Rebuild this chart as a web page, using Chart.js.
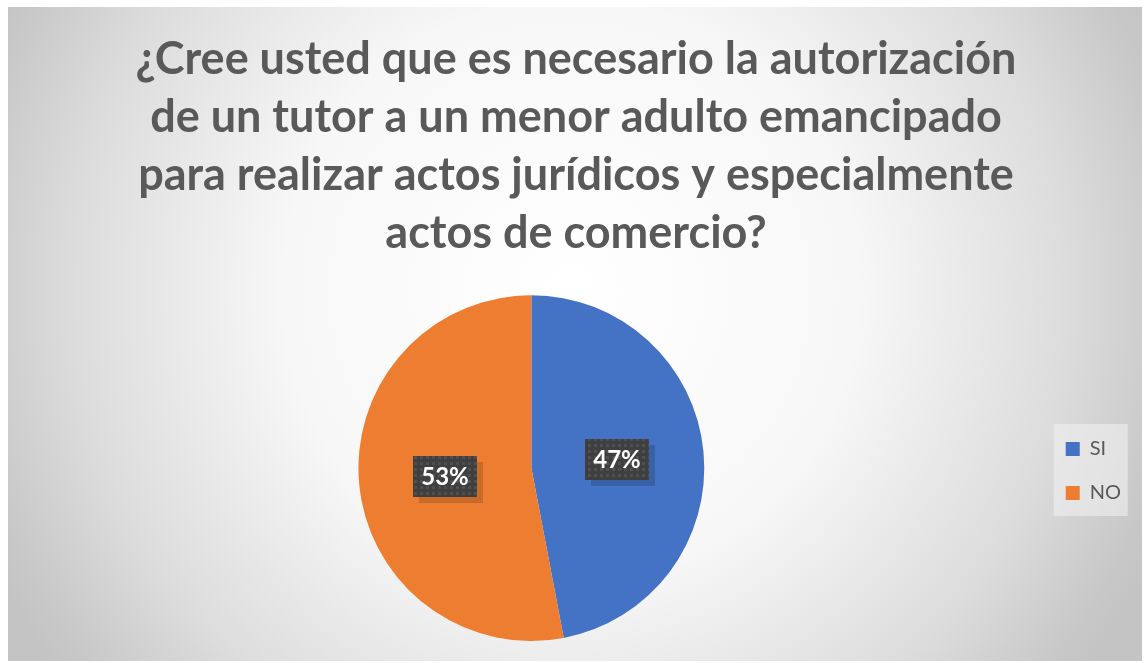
<!DOCTYPE html>
<html>
<head>
<meta charset="utf-8">
<script src="https://cdn.jsdelivr.net/npm/chart.js@4.4.1/dist/chart.umd.min.js"></script>
<style>
  html, body { margin: 0; padding: 0; background: #ffffff; }
</style>
</head>
<body>
<canvas id="pieChart" width="1144" height="663"></canvas>
<script>
const titleLines = [
  '¿Cree usted que es necesario la autorización',
  'de un tutor a un menor adulto emancipado',
  'para realizar actos jurídicos y especialmente',
  'actos de comercio?'
];
const categories = ['SI', 'NO'];
const percentages = [47, 53];
const sliceColors = ['#4472C4', '#ED7D31'];

// little checkered tile used behind the data labels
function makeLabelPattern(ctx) {
  const tile = document.createElement('canvas');
  tile.width = 6; tile.height = 6;
  const t = tile.getContext('2d');
  t.fillStyle = '#3f3f3f';
  t.fillRect(0, 0, 6, 6);
  t.fillStyle = '#505050';
  t.fillRect(0, 0, 3, 3);
  return ctx.createPattern(tile, 'repeat');
}

const backgroundPlugin = {
  id: 'background',
  beforeDraw(chart) {
    const ctx = chart.ctx;
    ctx.save();
    const g = ctx.createRadialGradient(570, 290, 0, 570, 290, 640);
    g.addColorStop(0, '#ffffff');
    g.addColorStop(0.45, '#f7f7f7');
    g.addColorStop(0.78, '#dcdcdc');
    g.addColorStop(0.95, '#c8c8c8');
    g.addColorStop(1, '#c4c4c4');
    ctx.fillStyle = g;
    ctx.fillRect(8, 7, 1134, 654);

    // legend backing box
    const boxes = chart.legend.legendHitBoxes;
    if (boxes && boxes.length) {
      const first = boxes[0], last = boxes[boxes.length - 1];
      const y0 = first.top + first.height / 2 - 25;
      const y1 = last.top + last.height / 2 + 23;
      ctx.fillStyle = 'rgba(240,240,240,0.6)';
      ctx.fillRect(first.left - 12, y0, 74, y1 - y0);
    }
    ctx.restore();
  }
};

const labelPlugin = {
  id: 'pctLabels',
  afterDatasetsDraw(chart) {
    const ctx = chart.ctx;
    const pattern = makeLabelPattern(ctx);
    const meta = chart.getDatasetMeta(0);
    meta.data.forEach((arc, i) => {
      const p = arc.tooltipPosition();
      const w = 64, h = 41;
      const x = Math.round(p.x - w / 2), y = Math.round(p.y - h / 2);
      ctx.save();
      ctx.fillStyle = 'rgba(0,0,0,0.15)';
      ctx.fillRect(x + 6, y + 6, w, h);
      ctx.fillStyle = pattern;
      ctx.fillRect(x, y, w, h);
      ctx.fillStyle = '#ffffff';
      ctx.font = 'bold 24px Lato';
      ctx.textAlign = 'center';
      ctx.textBaseline = 'middle';
      ctx.fillText(percentages[i] + '%', x + w / 2, y + h / 2 + 1);
      ctx.restore();
    });
  }
};

const ctx = document.getElementById('pieChart').getContext('2d');
const pieChart = new Chart(ctx, {
  type: 'pie',
  data: {
    labels: categories,
    datasets: [{
      data: percentages,
      backgroundColor: sliceColors,
      borderWidth: 0
    }]
  },
  options: {
    responsive: false,
    animation: false,
    layout: {
      padding: { top: 0, left: 21, right: 13, bottom: 22 }
    },
    plugins: {
      title: {
        display: true,
        text: titleLines,
        color: '#595959',
        font: { family: 'Lato', size: 45, weight: 'bold', lineHeight: 1.29 },
        padding: { top: 30, bottom: 33 }
      },
      legend: {
        display: true,
        position: 'right',
        title: {
          display: true,
          text: ' ',
          font: { size: 1, lineHeight: 1 },
          padding: { top: 300, bottom: 0 }
        },
        labels: {
          color: '#595959',
          font: { family: 'Lato', size: 20 },
          boxWidth: 14,
          boxHeight: 14,
          padding: 24
        }
      },
      tooltip: { enabled: false }
    }
  },
  plugins: [backgroundPlugin, labelPlugin]
});
</script>
</body>
</html>
